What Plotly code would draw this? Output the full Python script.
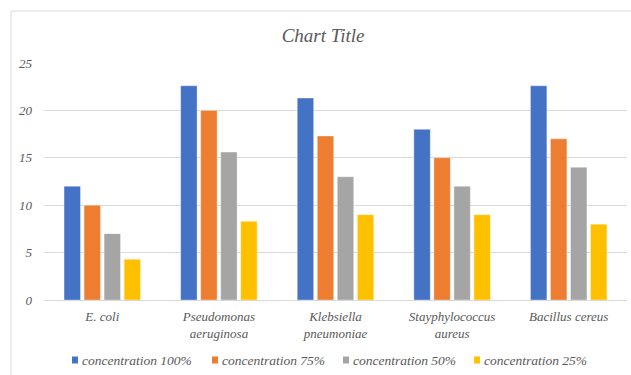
import plotly.graph_objects as go

categories = ["E. coli", "Pseudomonas<br>aeruginosa", "Klebsiella<br>pneumoniae",
              "Stayphylococcus<br>aureus", "Bacillus cereus"]
series_names = ["concentration 100%", "concentration 75%", "concentration 50%", "concentration 25%"]
conc_100 = [12, 22.6, 21.3, 18, 22.6]
conc_75 = [10, 20, 17.3, 15, 17]
conc_50 = [7, 15.6, 13, 12, 14]
conc_25 = [4.3, 8.3, 9, 9, 8]
colors = ["#4472C4", "#ED7D31", "#A5A5A5", "#FFC000"]
y_ticks = [0, 5, 10, 15, 20, 25]

FONT = "'Liberation Serif', 'Times New Roman', serif"
TEXT = "#595959"

W, H = 631, 375
ML, MR, MT, MB = 44, 4, 63, 75
PW, PH = W - ML - MR, H - MT - MB


def px_x(x):
    return (x - ML) / PW


def px_y(y):
    return (H - MB - y) / PH


fig = go.Figure()
for name, vals, col in zip(series_names, [conc_100, conc_75, conc_50, conc_25], colors):
    fig.add_trace(go.Bar(
        name=name, x=categories, y=vals, showlegend=False,
        marker=dict(color=col, line=dict(color="rgba(255,255,255,0.6)", width=0.6)),
    ))

# legend row below the axis: small colour swatch followed by italic label
legend_left = [72, 212, 343, 474]
shapes = [dict(type="rect", xref="paper", yref="paper",
               x0=px_x(11), x1=px_x(643), y0=px_y(390), y1=px_y(11),
               line=dict(color="#D9D9D9", width=1), fillcolor="rgba(0,0,0,0)",
               layer="below")]
annotations = []
for left, name, col in zip(legend_left, series_names, colors):
    shapes.append(dict(type="rect", xref="paper", yref="paper",
                       x0=px_x(left), x1=px_x(left + 6),
                       y0=px_y(363.5), y1=px_y(356.5),
                       line=dict(width=0), fillcolor=col))
    annotations.append(dict(xref="paper", yref="paper", x=px_x(left + 8), y=px_y(360),
                            xanchor="left", yanchor="middle", showarrow=False,
                            text=name,
                            font=dict(family=FONT, size=13.5, color=TEXT, style="italic")))

fig.update_layout(
    width=W, height=H,
    margin=dict(l=ML, r=MR, t=MT, b=MB),
    paper_bgcolor="white", plot_bgcolor="white",
    barmode="group", bargap=0.313, bargroupgap=0.18,
    font=dict(family=FONT, color=TEXT, size=13),
    showlegend=False,
    title=dict(text="<i>Chart Title</i>", x=0.512, xanchor="center",
               y=1 - 35 / H, yanchor="middle",
               font=dict(family=FONT, size=19, color=TEXT)),
    xaxis=dict(showgrid=False, showline=False, ticks="", ticklabelstandoff=7,
               tickfont=dict(family=FONT, size=13, color=TEXT, style="italic")),
    yaxis=dict(range=[0, 25], tickvals=y_ticks, showgrid=True, gridcolor="#D9D9D9",
               gridwidth=1, zeroline=True, zerolinecolor="#D9D9D9", zerolinewidth=1,
               showline=False, ticks="", ticklabelstandoff=11,
               tickfont=dict(family=FONT, size=13, color=TEXT, style="italic")),
    shapes=shapes,
    annotations=annotations,
)

fig.write_html("out.html")
